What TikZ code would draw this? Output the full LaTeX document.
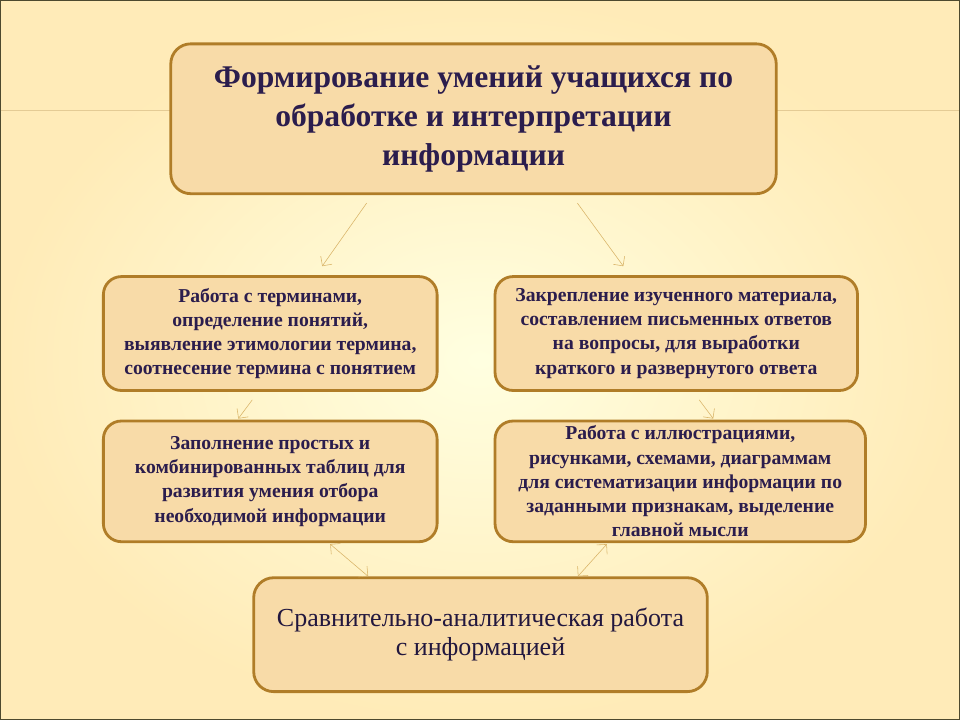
\documentclass[tikz,border=0pt]{standalone}
\usepackage{fontspec}
\setmainfont{Liberation Serif}
\usetikzlibrary{calc}
\usetikzlibrary{arrows.meta}
\definecolor{boxline}{HTML}{B07D28}
\definecolor{boxfill}{HTML}{F8DBA8}
\definecolor{inktext}{HTML}{2B1D4D}
\definecolor{arrowtan}{HTML}{D9B468}
\tikzset{
    topbox/.style = {rectangle, rounded corners=0.5cm, line width=2pt, draw=boxline, fill=boxfill, align=center, text=inktext, font=\fontsize{22.5}{27.8}\selectfont\bfseries, minimum width=15.15cm, minimum height=3.75cm},
    smallbox/.style = {rectangle, rounded corners=0.45cm, line width=2pt, draw=boxline, fill=boxfill, align=center, text=inktext, font=\fontsize{14}{17.2}\selectfont\bfseries, minimum height=2.85cm},
    lowbox/.style = {rectangle, rounded corners=0.5cm, line width=2pt, draw=boxline, fill=boxfill, align=center, text=inktext!80!black, font=\fontsize{18.5}{20.8}\selectfont, minimum width=11.35cm, minimum height=2.85cm},
    edgea/.style = {-{Straight Barb[length=5pt]}, thin, arrowtan},
    edged/.style = {{Straight Barb[length=5pt]}-{Straight Barb[length=5pt]}, thin, arrowtan}
}
\begin{document}
\begin{tikzpicture}[x=0.025cm, y=-0.025cm]
%
\shade[inner color=yellow!12!white, outer color=yellow!45!orange!28] (0,0) rectangle (960,720);
\draw[draw=black!60!olive, line width=0.6pt] (0,0) rectangle (960,720);
\draw[draw=arrowtan!70, line width=0.8pt] (0,110) -- (960,110);
%
\node[topbox] at (473.5,118.5) (top) {Формирование умений учащихся по\\обработке и интерпретации\\информации};
\node[smallbox, minimum width=8.35cm] at (270,333.5) (terms) {Работа с терминами,\\определение понятий,\\выявление этимологии термина,\\соотнесение термина с понятием};
\node[smallbox, minimum width=9.07cm] at (676.5,333.5) (fix) {Закрепление изученного материала,\\составлением письменных ответов\\на вопросы, для выработки\\краткого и развернутого ответа};
\node[smallbox, minimum width=8.35cm, minimum height=3.02cm] at (270,481.5) (tables) {Заполнение простых и\\комбинированных таблиц для\\развития умения отбора\\необходимой информации};
\node[smallbox, minimum width=9.27cm, minimum height=3.02cm] at (680.5,481.5) (pics) {Работа с иллюстрациями,\\рисунками, схемами, диаграммам\\для систематизации информации по\\заданными признакам, выделение\\главной мысли};
\node[lowbox] at (480.5,635) (comp) {Сравнительно-аналитическая работа\\с информацией};
%
\draw[edgea] ($(top.south)+(-107,8)$) -- ($(terms.north)+(52,-9)$);
\draw[edgea] ($(top.south)+(104,8)$) -- ($(fix.north)+(-53,-9)$);
\draw[edgea] ($(terms.south)+(-18,8)$) -- ($(tables.north)+(-32,-1)$);
\draw[edgea] ($(fix.south)+(23,8)$) -- ($(pics.north)+(33,-1)$);
\draw[edged] ($(tables.south)+(60,1)$) -- ($(comp.north)+(-112.5,0)$);
\draw[edged] ($(pics.south)+(-73.5,1)$) -- ($(comp.north)+(97.5,0)$);
\end{tikzpicture}
\end{document}
